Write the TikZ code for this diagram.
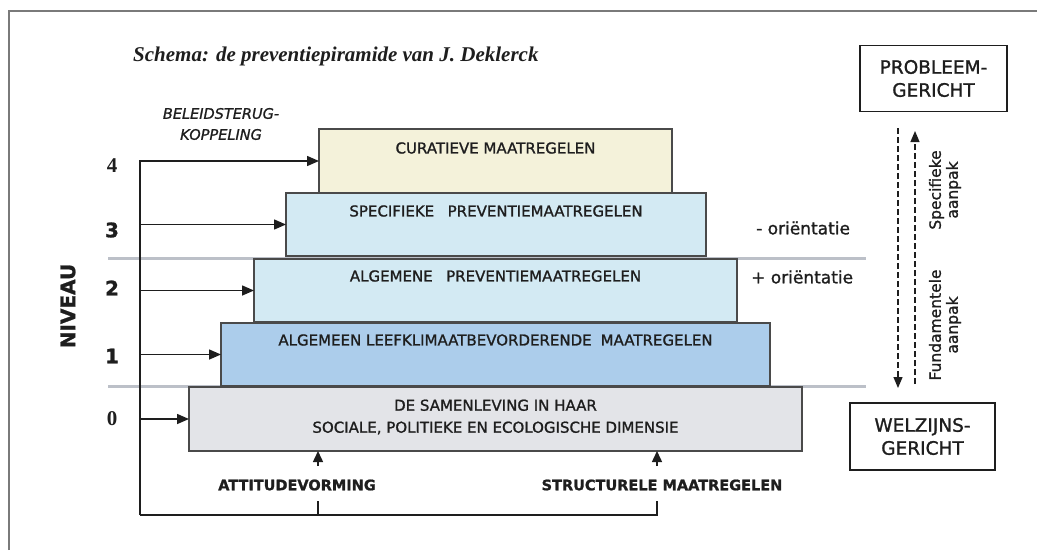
\documentclass[tikz,border=0pt]{standalone}
\usepackage{fontspec}
\setmainfont{DejaVu Sans}[FakeBold=1.2]
\newfontfamily\titlefont{Liberation Serif}
\usetikzlibrary{arrows.meta,calc}

\definecolor{ink}{HTML}{1E1E1E}
\definecolor{boxline}{HTML}{4A4A4A}
\definecolor{framegray}{HTML}{7A7A7A}
\definecolor{sepgray}{HTML}{BCC0C8}
\definecolor{curfill}{HTML}{F4F2DA}
\definecolor{prevfill}{HTML}{D3EAF3}
\definecolor{leeffill}{HTML}{ACCDEB}
\definecolor{samfill}{HTML}{E3E4E8}

\tikzset{
  pbox/.style={draw=boxline, line width=1.8pt, anchor=north west, inner sep=0pt, outer sep=0pt},
  boxtext/.style={font=\fontsize{15}{22}\selectfont, text=ink, inner sep=0pt, align=center},
  arr/.style={draw=ink, line width=1.5pt, -{Triangle[length=12pt,width=10pt]}},
  uparr/.style={draw=ink, line width=1.5pt, -{Triangle[length=11pt,width=10pt]}},
  conn/.style={draw=ink, line width=1.5pt},
  sepline/.style={draw=sepgray, line width=3pt},
  sidebox/.style={draw=ink, line width=1.6pt, align=center, inner sep=0pt, text=ink,
    font=\fontsize{18.5}{23}\selectfont},
  darr/.style={draw=ink, line width=1.2pt, dash pattern=on 6pt off 3pt,
    -{Triangle[length=11pt,width=9pt]}},
  levelnum/.style={font=\bfseries\fontsize{20}{22}\selectfont, text=ink, inner sep=0pt},
  sidetext/.style={font=\fontsize{17}{20}\selectfont, text=ink, inner sep=0pt, anchor=west},
  aanpak/.style={font=\fontsize{15.5}{17}\selectfont, text=ink, inner sep=0pt, align=center, rotate=90},
  actlabel/.style={font=\bfseries\fontsize{14.5}{17}\selectfont, text=ink, inner sep=0pt},
}

\begin{document}
\begin{tikzpicture}[x=1pt,y=-1pt]
\useasboundingbox (0,0) rectangle (1037,550);

% outer frame (top and left edges)
\draw[draw=framegray, line width=2pt] (9,550) -- (9,11) -- (1037,11);

% title
\node[anchor=west, inner sep=0pt, text=ink,
  font=\titlefont\bfseries\itshape\fontsize{21}{24}\selectfont] (title) at (133,56)
  {Schema: de preventiepiramide van J. Deklerck};

% separator lines between orientation zones
\coordinate (sepAl) at (108,258);
\coordinate (sepAr) at (866,258);
\coordinate (sepBl) at (108,386);
\coordinate (sepBr) at (866,386);
\draw[sepline] (sepAl) -- (sepAr);
\draw[sepline] (sepBl) -- (sepBr);

% pyramid layers
\node[pbox, fill=curfill, minimum width=353pt, minimum height=64pt] (cur) at (319,129) {};
\node[pbox, fill=prevfill, minimum width=420pt, minimum height=63pt] (spec) at (286,193) {};
\node[pbox, fill=prevfill, minimum width=483pt, minimum height=63pt] (alg) at (254,259) {};
\node[pbox, fill=leeffill, minimum width=549pt, minimum height=63pt] (leef) at (221,323) {};
\node[pbox, fill=samfill, minimum width=613pt, minimum height=64pt] (sam) at (189,387) {};

\node[boxtext] (curT) at ($(cur.north)+(0,19)$) {CURATIEVE MAATREGELEN};
\node[boxtext] (specT) at ($(spec.north)+(0,18)$) {SPECIFIEKE\hspace{0.9em}PREVENTIEMAATREGELEN};
\node[boxtext] (algT) at ($(alg.north)+(0,17)$) {ALGEMENE\hspace{0.9em}PREVENTIEMAATREGELEN};
\node[boxtext] (leefT) at ($(leef.north)+(0,17)$) {ALGEMEEN LEEFKLIMAATBEVORDERENDE\hspace{0.6em}MAATREGELEN};
\node[boxtext] (samT) at ($(sam.north)+(0,30)$) {DE SAMENLEVING IN HAAR\\SOCIALE, POLITIEKE EN ECOLOGISCHE DIMENSIE};

% level numbers and axis label
\node[levelnum, font=\titlefont\bfseries\fontsize{21}{22}\selectfont] (n4) at (112,166) {4};
\node[levelnum] (n3) at (112,230) {3};
\node[levelnum] (n2) at (112,288) {2};
\node[levelnum] (n1) at (112,356) {1};
\node[levelnum, font=\titlefont\bfseries\fontsize{21}{22}\selectfont] (n0) at (112,419) {0};
\node[levelnum, font=\bfseries\fontsize{20}{22}\selectfont, rotate=90] (niv) at (68,306) {NIVEAU};

% policy feedback loop
\node[font=\itshape\fontsize{14.5}{21}\selectfont, text=ink, align=center, inner sep=0pt] (bel) at (221,124)
  {BELEIDSTERUG-\\KOPPELING};
\coordinate (fbc) at (140,515);
\coordinate (tA) at (318,515);
\coordinate (tS) at (657,515);
\draw[arr] (fbc) |- (cur.west);
\draw[arr] (spec.west -| fbc) -- (spec.west);
\draw[arr] (alg.west -| fbc) -- (alg.west);
\draw[arr] (leef.west -| fbc) -- (leef.west);
\draw[arr] (sam.west -| fbc) -- (sam.west);
\draw[conn] (fbc) -- (tS) -- ++(0,-14);
\draw[conn] (tA) -- ++(0,-14);

% actions feeding the base layer
\node[actlabel] (att) at (297,485) {ATTITUDEVORMING};
\node[actlabel] (str) at (662,485) {STRUCTURELE MAATREGELEN};
\coordinate (aA) at (318,466);
\coordinate (aS) at (657,466);
\draw[uparr] (aA) -- (aA |- sam.south);
\draw[uparr] (aS) -- (aS |- sam.south);

% orientation labels
\node[sidetext] (mino) at (756,228) {- oriëntatie};
\node[sidetext] (pluso) at (751,277) {+ oriëntatie};

% right-hand column
\node[sidebox, minimum width=147pt, minimum height=66pt] (prob) at (933.5,78.5) {PROBLEEM-\\GERICHT};
\node[sidebox, minimum width=145pt, minimum height=67pt] (welz) at (922.5,436.5) {WELZIJNS-\\GERICHT};

\coordinate (dl1) at (898,128);
\coordinate (dl2) at (898,388);
\coordinate (dr1) at (915,384);
\coordinate (dr2) at (915,131);
\draw[darr] (dl1) -- (dl2);
\draw[darr] (dr1) -- (dr2);

\node[aanpak] (specA) at (945,190) {Specifieke\\aanpak};
\node[aanpak] (fundA) at (945,325) {Fundamentele\\aanpak};
\end{tikzpicture}
\end{document}
